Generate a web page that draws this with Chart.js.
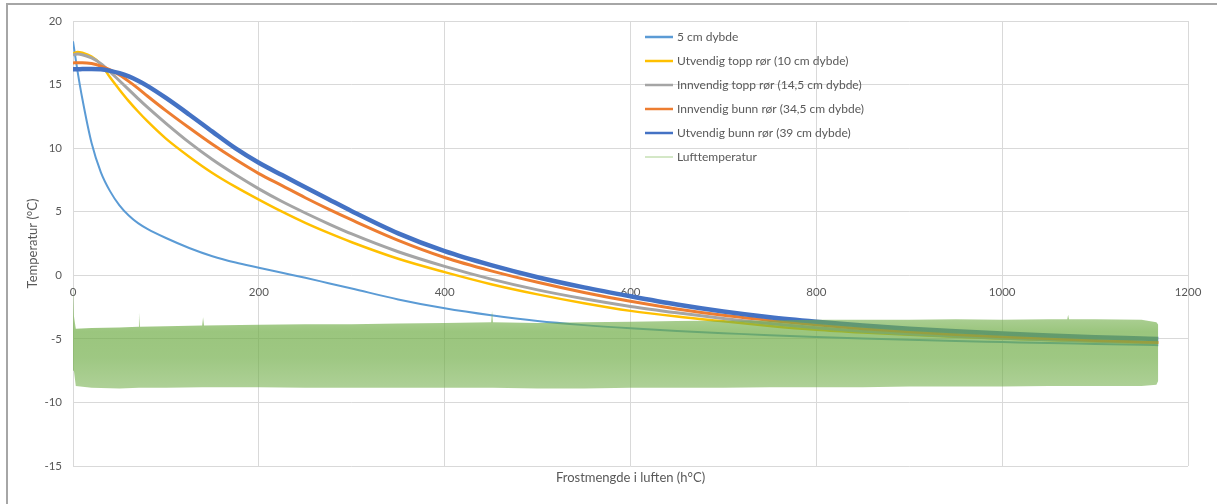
<!DOCTYPE html>
<html><head><meta charset="utf-8">
<script src="https://cdn.jsdelivr.net/npm/chart.js@4.4.1/dist/chart.umd.min.js"></script>
<style>html,body{margin:0;padding:0;background:#fff;overflow:hidden}canvas{display:block}</style>
</head><body>
<canvas id="c" width="1217" height="504"></canvas>
<script>
// Frost amount in air (h°C) sample positions
const frostX = [0,5,10,20,30,40,50,60,70,80,100,125,150,175,200,225,250,275,300,350,400,450,500,550,600,650,700,750,800,850,900,950,1000,1050,1100,1150,1168];
const depth5cm = [18.4,16.0,13.9,10.4,8.1,6.6,5.5,4.7,4.1,3.65,2.93,2.15,1.5,1.0,0.6,0.2,-0.2,-0.62,-1.04,-1.9,-2.6,-3.15,-3.6,-3.92,-4.17,-4.38,-4.55,-4.72,-4.86,-4.98,-5.08,-5.17,-5.25,-5.33,-5.4,-5.47,-5.5];
const outerTop10 = [17.45,17.57,17.5,17.2,16.6,15.55,14.6,13.7,12.88,12.12,10.75,9.33,8.05,6.95,5.95,5.0,4.12,3.33,2.6,1.3,0.25,-0.7,-1.5,-2.2,-2.8,-3.25,-3.62,-3.98,-4.28,-4.5,-4.68,-4.84,-4.97,-5.09,-5.19,-5.28,-5.31];
const innerTop145 = [17.35,17.4,17.35,17.1,16.65,16.0,15.3,14.6,13.9,13.22,11.95,10.45,9.1,7.9,6.8,5.8,4.9,4.05,3.25,1.85,0.7,-0.3,-1.15,-1.85,-2.45,-2.95,-3.4,-3.8,-4.13,-4.4,-4.62,-4.8,-4.95,-5.08,-5.19,-5.28,-5.31];
const innerBottom345 = [16.7,16.72,16.72,16.65,16.45,16.15,15.75,15.25,14.7,14.1,12.95,11.6,10.3,9.1,8.0,7.05,6.1,5.2,4.35,2.75,1.4,0.35,-0.55,-1.35,-2.05,-2.65,-3.15,-3.55,-3.9,-4.2,-4.45,-4.65,-4.83,-4.98,-5.12,-5.24,-5.28];
const outerBottom39 = [16.2,16.2,16.22,16.22,16.2,16.08,15.9,15.64,15.3,14.9,13.95,12.65,11.3,9.98,8.85,7.88,6.93,5.98,5.04,3.3,1.9,0.8,-0.15,-0.95,-1.65,-2.3,-2.85,-3.3,-3.65,-3.95,-4.2,-4.4,-4.58,-4.74,-4.87,-4.98,-5.02];
// Air temperature: upper and lower envelope of the oscillating reading
const airX = [0,1,3,20,50,70,71,72,100,139,140,141,200,250,300,350,400,450,451,452,500,550,600,650,700,750,800,850,900,950,1000,1050,1070,1071,1072,1100,1150,1166,1168];
const airHigh = [-0.8,-3.2,-4.2,-4.15,-4.1,-4.05,-2.9,-4.05,-4.0,-3.95,-3.3,-3.95,-3.9,-3.85,-3.85,-3.8,-3.75,-3.7,-2.8,-3.7,-3.75,-3.7,-3.65,-3.6,-3.55,-3.55,-3.5,-3.5,-3.5,-3.45,-3.5,-3.45,-3.45,-3.1,-3.45,-3.45,-3.5,-3.7,-3.9];
const airLow = [-1.0,-7.5,-8.7,-8.85,-8.9,-8.85,-8.85,-8.85,-8.85,-8.8,-8.8,-8.8,-8.8,-8.85,-8.85,-8.85,-8.85,-8.85,-8.85,-8.85,-8.9,-8.9,-8.85,-8.85,-8.85,-8.8,-8.8,-8.8,-8.75,-8.75,-8.75,-8.7,-8.7,-8.7,-8.7,-8.7,-8.7,-8.6,-8.3];
const xTicks = [0,200,400,600,800,1000,1200];
const yTicks = [-15,-10,-5,0,5,10,15,20];
const seriesLabels = ['5 cm dybde','Utvendig topp rør (10 cm dybde)','Innvendig topp rør (14,5 cm dybde)','Innvendig bunn rør (34,5 cm dybde)','Utvendig bunn rør (39 cm dybde)','Lufttemperatur'];

const TXT = '#595959', GRID = '#d9d9d9';
const pts = (xs, ys) => xs.map((x, i) => ({x, y: ys[i]}));
const curve = (label, ys, color, w, order) => ({
  label, data: pts(frostX, ys), borderColor: color, backgroundColor: color, borderWidth: w,
  pointRadius: 0, fill: false, cubicInterpolationMode: 'monotone', order, legendColor: color, legendWidth: 2.5
});

// band shading: denser near the middle, lighter towards the streaky edges
function bandFill(ctx) {
  const chart = ctx.chart, y = chart.scales.y;
  if (!chart.chartArea || !y) return 'rgba(112,173,71,0.66)';
  const g = chart.ctx.createLinearGradient(0, y.getPixelForValue(-3.3), 0, y.getPixelForValue(-9));
  g.addColorStop(0, 'rgba(112,173,71,0.58)');
  g.addColorStop(0.2, 'rgba(112,173,71,0.70)');
  g.addColorStop(0.55, 'rgba(112,173,71,0.68)');
  g.addColorStop(1, 'rgba(112,173,71,0.56)');
  return g;
}

const datasets = [
  {label: seriesLabels[5], data: pts(airX, airHigh), borderWidth: 0, borderColor: 'rgba(112,173,71,0.7)',
   backgroundColor: bandFill, fill: '+1', pointRadius: 0, tension: 0, order: 0,
   legendColor: '#a9d08e', legendWidth: 1},
  {label: '_airLow', data: pts(airX, airLow), borderWidth: 0, borderColor: 'rgba(112,173,71,0.7)',
   fill: false, pointRadius: 0, tension: 0, order: 1, hideInLegend: true},
  curve(seriesLabels[4], outerBottom39, '#4472c4', 4.5, 2),
  curve(seriesLabels[3], innerBottom345, '#ed7d31', 3, 3),
  curve(seriesLabels[2], innerTop145, '#a5a5a5', 3, 4),
  curve(seriesLabels[1], outerTop10, '#ffc000', 2.5, 5),
  curve(seriesLabels[0], depth5cm, '#5b9bd5', 2, 6)
];

const frame = {
  id: 'frame',
  beforeDraw(chart) {
    const c = chart.ctx;
    c.save();
    c.fillStyle = '#ffffff';
    c.fillRect(0, 0, chart.width, chart.height);
    c.fillStyle = '#a6a6a6';
    c.fillRect(6, 3, chart.width - 6, 2);
    c.fillRect(6, 3, 2, chart.height - 3);
    c.restore();
  }
};

const insideLegend = {
  id: 'insideLegend',
  afterDatasetsDraw(chart) {
    const c = chart.ctx, a = chart.chartArea;
    const items = seriesLabels.map(l => chart.data.datasets.find(d => d.label === l));
    c.save();
    c.font = '12px Lato';
    c.fillStyle = TXT;
    c.textBaseline = 'middle';
    c.textAlign = 'left';
    items.forEach((d, i) => {
      const y = a.top + 16 + i * 24;
      const x0 = a.left + 572;
      c.strokeStyle = d.legendColor;
      c.lineWidth = d.legendWidth;
      c.beginPath(); c.moveTo(x0, y); c.lineTo(x0 + 28, y); c.stroke();
      c.fillText(d.label, x0 + 32, y + 0.5);
    });
    c.restore();
  }
};

new Chart(document.getElementById('c'), {
  type: 'line',
  data: {datasets},
  plugins: [frame, insideLegend],
  options: {
    responsive: false, animation: false, devicePixelRatio: 1,
    layout: {padding: {left: 0, right: 29, top: 21, bottom: 0}},
    plugins: {legend: {display: false}, tooltip: {enabled: false}},
    scales: {
      x: {
        type: 'linear', position: 'bottom', min: 0, max: 1200,
        afterBuildTicks: s => { s.ticks = xTicks.map(v => ({value: v})); },
        ticks: {display: false},
        grid: {color: GRID, lineWidth: 1, drawTicks: false},
        border: {display: false},
        title: {display: true, text: 'Frostmengde i luften (h°C)', color: TXT,
          font: {family: 'Lato', size: 13}, padding: {top: 0, bottom: 18}},
        afterFit: s => { s.height = 38; }
      },
      xz: {
        axis: 'x', type: 'linear', position: {y: 0}, min: 0, max: 1200,
        afterBuildTicks: s => { s.ticks = xTicks.map(v => ({value: v})); },
        ticks: {color: TXT, font: {family: 'Lato', size: 11.5}, padding: 10, maxRotation: 0, autoSkip: false,
          callback: v => String(v)},
        grid: {display: false, drawTicks: false},
        border: {display: false}
      },
      y: {
        type: 'linear', position: 'left', min: -15, max: 20,
        afterBuildTicks: s => { s.ticks = yTicks.map(v => ({value: v})); },
        ticks: {color: TXT, font: {family: 'Lato', size: 11.5}, padding: 11, callback: v => String(v)},
        grid: {color: GRID, lineWidth: 1, drawTicks: false},
        border: {display: false},
        title: {display: true, text: 'Temperatur (°C)', color: TXT,
          font: {family: 'Lato', size: 13}, padding: {top: 25, bottom: 0}},
        afterFit: s => { s.width = 73; }
      }
    }
  }
});
</script>
</body></html>
